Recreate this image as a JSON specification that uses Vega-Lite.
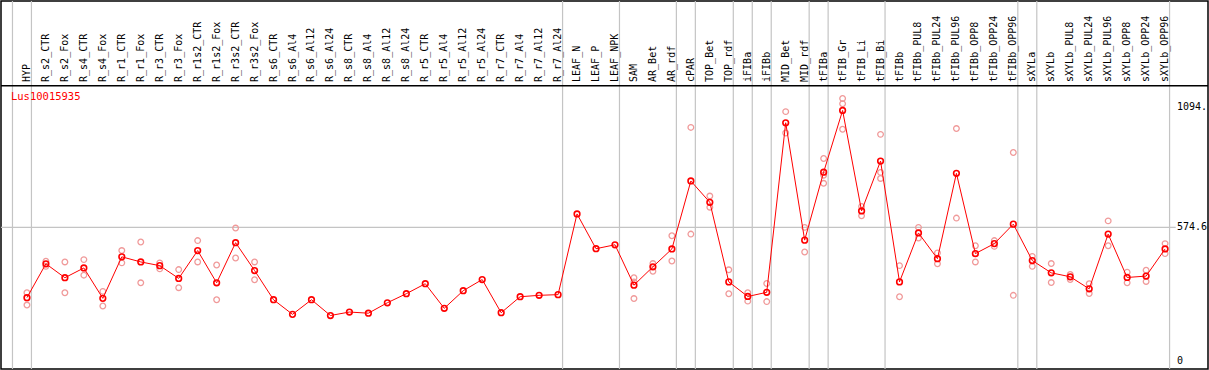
{
  "$schema": "https://vega.github.io/schema/vega-lite/v6.json",
  "width": 1209,
  "height": 370,
  "padding": 0,
  "autosize": {"type": "fit", "contains": "padding"},
  "config": {"view": {"stroke": "black", "strokeWidth": 1.5}},
  "datasets": {
    "means": [
      {"i": 1, "name": "HYP", "v": 272},
      {"i": 2, "name": "R_s2_CTR", "v": 418},
      {"i": 3, "name": "R_s2_Fox", "v": 358},
      {"i": 4, "name": "R_s4_CTR", "v": 400},
      {"i": 5, "name": "R_s4_Fox", "v": 269},
      {"i": 6, "name": "R_r1_CTR", "v": 448},
      {"i": 7, "name": "R_r1_Fox", "v": 426},
      {"i": 8, "name": "R_r3_CTR", "v": 410},
      {"i": 9, "name": "R_r3_Fox", "v": 355},
      {"i": 10, "name": "R_r1s2_CTR", "v": 475},
      {"i": 11, "name": "R_r1s2_Fox", "v": 336},
      {"i": 12, "name": "R_r3s2_CTR", "v": 509},
      {"i": 13, "name": "R_r3s2_Fox", "v": 389},
      {"i": 14, "name": "R_s6_CTR", "v": 263},
      {"i": 15, "name": "R_s6_Al4", "v": 200},
      {"i": 16, "name": "R_s6_Al12", "v": 263},
      {"i": 17, "name": "R_s6_Al24", "v": 195},
      {"i": 18, "name": "R_s8_CTR", "v": 210},
      {"i": 19, "name": "R_s8_Al4", "v": 205},
      {"i": 20, "name": "R_s8_Al12", "v": 250},
      {"i": 21, "name": "R_s8_Al24", "v": 289},
      {"i": 22, "name": "R_r5_CTR", "v": 332},
      {"i": 23, "name": "R_r5_Al4", "v": 226},
      {"i": 24, "name": "R_r5_Al12", "v": 302},
      {"i": 25, "name": "R_r5_Al24", "v": 350},
      {"i": 26, "name": "R_r7_CTR", "v": 207},
      {"i": 27, "name": "R_r7_Al4", "v": 276},
      {"i": 28, "name": "R_r7_Al12", "v": 282},
      {"i": 29, "name": "R_r7_Al24", "v": 285},
      {"i": 30, "name": "LEAF_N", "v": 633},
      {"i": 31, "name": "LEAF_P", "v": 483},
      {"i": 32, "name": "LEAF_NPK", "v": 500},
      {"i": 33, "name": "SAM", "v": 326},
      {"i": 34, "name": "AR_Bet", "v": 405},
      {"i": 35, "name": "AR_rdf", "v": 482},
      {"i": 36, "name": "cPAR", "v": 775},
      {"i": 37, "name": "TOP_Bet", "v": 683},
      {"i": 38, "name": "TOP_rdf", "v": 340},
      {"i": 39, "name": "iFIBa", "v": 277},
      {"i": 40, "name": "iFIBb", "v": 295},
      {"i": 41, "name": "MID_Bet", "v": 1026},
      {"i": 42, "name": "MID_rdf", "v": 520},
      {"i": 43, "name": "tFIBa", "v": 813},
      {"i": 44, "name": "tFIB_Gr", "v": 1079},
      {"i": 45, "name": "tFIB_Li", "v": 646},
      {"i": 46, "name": "tFIB_Bi", "v": 861},
      {"i": 47, "name": "tFIBb", "v": 340},
      {"i": 48, "name": "tFIBb_PUL8", "v": 551},
      {"i": 49, "name": "tFIBb_PUL24", "v": 440},
      {"i": 50, "name": "tFIBb_PUL96", "v": 808},
      {"i": 51, "name": "tFIBb_OPP8", "v": 462},
      {"i": 52, "name": "tFIBb_OPP24", "v": 505},
      {"i": 53, "name": "tFIBb_OPP96", "v": 589},
      {"i": 54, "name": "sXYLa", "v": 432},
      {"i": 55, "name": "sXYLb", "v": 379},
      {"i": 56, "name": "sXYLb_PUL8", "v": 362},
      {"i": 57, "name": "sXYLb_PUL24", "v": 310},
      {"i": 58, "name": "sXYLb_PUL96", "v": 546},
      {"i": 59, "name": "sXYLb_OPP8", "v": 359},
      {"i": 60, "name": "sXYLb_OPP24", "v": 365},
      {"i": 61, "name": "sXYLb_OPP96", "v": 482}
    ],
    "reps": [
      {"i": 1, "v": 293}, {"i": 1, "v": 240},
      {"i": 2, "v": 429}, {"i": 2, "v": 407},
      {"i": 3, "v": 426}, {"i": 3, "v": 293},
      {"i": 4, "v": 436}, {"i": 4, "v": 369},
      {"i": 5, "v": 299}, {"i": 5, "v": 236},
      {"i": 6, "v": 475}, {"i": 6, "v": 422},
      {"i": 7, "v": 512}, {"i": 7, "v": 336},
      {"i": 8, "v": 422}, {"i": 8, "v": 396},
      {"i": 9, "v": 393}, {"i": 9, "v": 315},
      {"i": 10, "v": 518}, {"i": 10, "v": 426},
      {"i": 11, "v": 413}, {"i": 11, "v": 263},
      {"i": 12, "v": 572}, {"i": 12, "v": 443},
      {"i": 13, "v": 426}, {"i": 13, "v": 349},
      {"i": 33, "v": 358}, {"i": 33, "v": 268}, {"i": 33, "v": 340},
      {"i": 34, "v": 419}, {"i": 34, "v": 386},
      {"i": 35, "v": 539}, {"i": 35, "v": 430},
      {"i": 36, "v": 1006}, {"i": 36, "v": 546},
      {"i": 37, "v": 710}, {"i": 37, "v": 662},
      {"i": 38, "v": 392}, {"i": 38, "v": 289},
      {"i": 39, "v": 293}, {"i": 39, "v": 257},
      {"i": 40, "v": 333}, {"i": 40, "v": 255},
      {"i": 41, "v": 1074}, {"i": 41, "v": 982},
      {"i": 42, "v": 575}, {"i": 42, "v": 469},
      {"i": 43, "v": 872}, {"i": 43, "v": 765}, {"i": 43, "v": 800},
      {"i": 44, "v": 1131}, {"i": 44, "v": 1108}, {"i": 44, "v": 998},
      {"i": 45, "v": 665}, {"i": 45, "v": 625},
      {"i": 46, "v": 976}, {"i": 46, "v": 812}, {"i": 46, "v": 786},
      {"i": 47, "v": 410}, {"i": 47, "v": 276},
      {"i": 48, "v": 575}, {"i": 48, "v": 529},
      {"i": 49, "v": 465}, {"i": 49, "v": 418},
      {"i": 50, "v": 1001}, {"i": 50, "v": 615},
      {"i": 51, "v": 496}, {"i": 51, "v": 426},
      {"i": 52, "v": 518}, {"i": 52, "v": 493},
      {"i": 53, "v": 898}, {"i": 53, "v": 282},
      {"i": 54, "v": 450}, {"i": 54, "v": 407},
      {"i": 55, "v": 419}, {"i": 55, "v": 337},
      {"i": 56, "v": 372}, {"i": 56, "v": 350},
      {"i": 57, "v": 332}, {"i": 57, "v": 290},
      {"i": 58, "v": 603}, {"i": 58, "v": 496},
      {"i": 59, "v": 382}, {"i": 59, "v": 336},
      {"i": 60, "v": 390}, {"i": 60, "v": 342},
      {"i": 61, "v": 505}, {"i": 61, "v": 462}
    ],
    "bounds": [
      {"b": 0.237}, {"b": 1.237}, {"b": 29.237}, {"b": 32.237}, {"b": 35.237},
      {"b": 36.237}, {"b": 38.237}, {"b": 39.237}, {"b": 40.237}, {"b": 42.237},
      {"b": 43.237}, {"b": 46.237}, {"b": 53.237}, {"b": 54.237}, {"b": 61.237}
    ],
    "ylabels": [
      {"label": "1094.", "v": 1094},
      {"label": "574.6", "v": 574.6},
      {"label": "0", "v": 0}
    ]
  },
  "layer": [
    {
      "data": {"name": "bounds"},
      "mark": {"type": "rule", "color": "#c4c4c4", "strokeWidth": 1.2},
      "encoding": {
        "x": {"field": "b", "type": "quantitative", "scale": {"domain": [-0.368, 63.263], "nice": false, "zero": false}, "axis": null}
      }
    },
    {
      "data": {"values": [{"v": 574.6}]},
      "mark": {"type": "rule", "color": "#c4c4c4", "strokeWidth": 1.2},
      "encoding": {
        "y": {"field": "v", "type": "quantitative", "scale": {"domain": [-35.6, 1551], "nice": false, "zero": false}, "axis": null},
        "x": {"datum": -0.368, "type": "quantitative"},
        "x2": {"datum": 61.56}
      }
    },
    {
      "data": {"values": [{"v": 1185.3}]},
      "mark": {"type": "rule", "color": "black", "strokeWidth": 1.5},
      "encoding": {
        "y": {"field": "v", "type": "quantitative"}
      }
    },
    {
      "data": {"name": "means"},
      "mark": {"type": "text", "angle": 270, "align": "left", "baseline": "middle", "font": "DejaVu Sans Mono", "fontSize": 10, "color": "black"},
      "encoding": {
        "x": {"field": "i", "type": "quantitative"},
        "y": {"datum": 1202, "type": "quantitative"},
        "text": {"field": "name"}
      }
    },
    {
      "data": {"values": [{"t": "Lus10015935"}]},
      "mark": {"type": "text", "align": "left", "baseline": "middle", "font": "DejaVu Sans Mono", "fontSize": 10.5, "color": "red"},
      "encoding": {
        "x": {"datum": 0.158, "type": "quantitative"},
        "y": {"datum": 1135, "type": "quantitative"},
        "text": {"field": "t"}
      }
    },
    {
      "data": {"name": "ylabels"},
      "mark": {"type": "text", "align": "left", "baseline": "middle", "font": "DejaVu Sans Mono", "fontSize": 10, "color": "black"},
      "encoding": {
        "x": {"datum": 61.63, "type": "quantitative"},
        "y": {"field": "v", "type": "quantitative"},
        "text": {"field": "label"}
      }
    },
    {
      "data": {"name": "reps"},
      "mark": {"type": "point", "shape": "circle", "filled": false, "color": "#f09a9a", "size": 32, "strokeWidth": 1.3, "opacity": 1},
      "encoding": {
        "x": {"field": "i", "type": "quantitative"},
        "y": {"field": "v", "type": "quantitative"}
      }
    },
    {
      "data": {"name": "means"},
      "mark": {"type": "line", "color": "red", "strokeWidth": 1},
      "encoding": {
        "x": {"field": "i", "type": "quantitative"},
        "y": {"field": "v", "type": "quantitative"}
      }
    },
    {
      "data": {"name": "means"},
      "mark": {"type": "point", "shape": "circle", "filled": false, "color": "red", "size": 32, "strokeWidth": 1.6, "opacity": 1},
      "encoding": {
        "x": {"field": "i", "type": "quantitative"},
        "y": {"field": "v", "type": "quantitative"}
      }
    }
  ]
}
